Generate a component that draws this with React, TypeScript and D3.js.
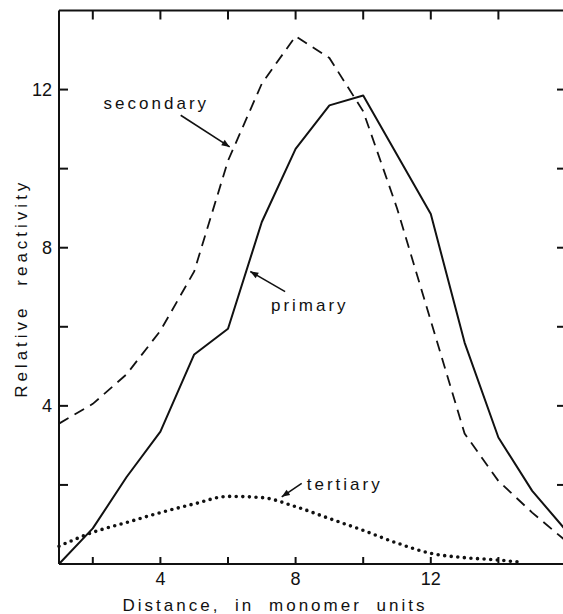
import React from "react";
import * as d3 from "d3";

// values
const distance = [1, 2, 3, 4, 5, 6, 7, 8, 9, 10, 11, 12, 13, 14, 15, 16];
const primary = [0, 0.9, 2.2, 3.35, 5.3, 5.95, 8.65, 10.5, 11.6, 11.85, 10.35, 8.85, 5.6, 3.2, 1.85, 0.85];
const secondary = [3.55, 4.05, 4.8, 5.9, 7.4, 10.2, 12.15, 13.35, 12.8, 11.45, 9.0, 6.15, 3.3, 2.1, 1.3, 0.58];
const tertiaryDistance = [1, 2, 3, 4, 5, 6, 7, 8, 9, 10, 11, 12, 13, 14, 14.6];
const tertiary = [0.45, 0.8, 1.05, 1.3, 1.52, 1.71, 1.68, 1.45, 1.15, 0.85, 0.53, 0.27, 0.16, 0.1, 0.05];

const xTicks = [2, 4, 6, 8, 10, 12, 14];
const xTickLabels = [4, 8, 12];
const yTicks = [2, 4, 6, 8, 10, 12];
const yTickLabels = [4, 8, 12];

const App = () => {
    const width = 563;
    const height = 614;

    const MARGIN = { top: 10.5, right: -3, bottom: 50, left: 59 };
    const boundsRight = width - MARGIN.right;
    const boundsBottom = height - MARGIN.bottom;

    const xScale = d3.scaleLinear().domain([1, 16]).range([MARGIN.left, boundsRight]);
    const yScale = d3.scaleLinear().domain([0, 14]).range([boundsBottom, MARGIN.top]);

    const font = "'Liberation Sans', Arial, sans-serif";
    const ink = "#111";

    const lineBuilder = (xs: number[]) =>
        d3.line<number>()
            .x((d, i) => xScale(xs[i]))
            .y((d) => yScale(d));

    const primaryPath = lineBuilder(distance)(primary);
    const secondaryPath = lineBuilder(distance)(secondary);
    const tertiaryPath = lineBuilder(tertiaryDistance).curve(d3.curveMonotoneX)(tertiary);

    // labels with their arrows, in data units
    const notes = [
        { text: "secondary", tx: 2.32, ty: 11.5, from: [4.6, 11.35], to: [6.05, 10.55] },
        { text: "primary", tx: 7.27, ty: 6.39, from: [7.69, 6.89], to: [6.66, 7.4] },
        { text: "tertiary", tx: 8.33, ty: 1.87, from: [8.18, 2.04], to: [7.59, 1.7] },
    ];

    const x0 = xScale(1);
    const x1 = xScale(16);
    const y0 = yScale(0);
    const y1 = yScale(14);

    return (
        <div style={{ position: "absolute", left: 0, top: 0 }}>
            <svg width={width} height={height} style={{ display: "block", background: "#fff" }}>
                <defs>
                    <marker id="arrow" viewBox="0 0 10 10" refX={10} refY={5}
                        markerWidth={9} markerHeight={8} markerUnits="userSpaceOnUse" orient="auto">
                        <path d="M0,1 L10,5 L0,9 z" fill={ink} />
                    </marker>
                </defs>

                {/* frame */}
                <g stroke={ink} strokeWidth={2} fill="none">
                    <line x1={x0} y1={y0} x2={x1} y2={y0} />
                    <line x1={x0} y1={y1} x2={x1} y2={y1} />
                    <line x1={x0} y1={y0} x2={x0} y2={y1} />
                    <line x1={x1} y1={y0} x2={x1} y2={y1} />
                    {xTicks.map((t) => (
                        <g key={"xt" + t}>
                            <line x1={xScale(t)} x2={xScale(t)} y1={y0} y2={y0 - 7} />
                            <line x1={xScale(t)} x2={xScale(t)} y1={y1} y2={y1 + 9} />
                        </g>
                    ))}
                    {yTicks.map((t) => (
                        <g key={"yt" + t}>
                            <line x1={x0} x2={x0 + 9} y1={yScale(t)} y2={yScale(t)} />
                            <line x1={x1} x2={x1 - 9} y1={yScale(t)} y2={yScale(t)} />
                        </g>
                    ))}
                </g>

                <g fontFamily={font} fontSize={18} fill={ink}>
                    {xTickLabels.map((t) => (
                        <text key={"xl" + t} x={xScale(t)} y={y0 + 21} textAnchor="middle">{t}</text>
                    ))}
                    {yTickLabels.map((t) => (
                        <text key={"yl" + t} x={x0 - 7} y={yScale(t)} dy="0.36em" textAnchor="end">{t}</text>
                    ))}
                </g>

                {/* series */}
                <path d={secondaryPath || ""} fill="none" stroke={ink} strokeWidth={1.8} strokeDasharray="11 7" />
                <path d={primaryPath || ""} fill="none" stroke={ink} strokeWidth={2} strokeLinejoin="round" />
                <path d={tertiaryPath || ""} fill="none" stroke={ink} strokeWidth={3.6}
                    strokeDasharray="0 6.6" strokeLinecap="round" />

                {/* annotations */}
                <g fontFamily={font} fontSize={17} fill={ink} letterSpacing={3}>
                    {notes.map((n) => (
                        <g key={n.text}>
                            <text x={xScale(n.tx)} y={yScale(n.ty)}>{n.text}</text>
                            <line x1={xScale(n.from[0])} y1={yScale(n.from[1])}
                                x2={xScale(n.to[0])} y2={yScale(n.to[1])}
                                stroke={ink} strokeWidth={1.6} markerEnd="url(#arrow)" />
                        </g>
                    ))}
                </g>

                {/* axis titles */}
                <text x={(x0 + 491) / 2} y={611} textAnchor="middle" fontFamily={font} fontSize={17}
                    fill={ink} letterSpacing={3} wordSpacing={7}>
                    Distance, in monomer units
                </text>
                <text transform={`translate(27, ${(y0 + y1) / 2 + 1}) rotate(-90)`} textAnchor="middle"
                    fontFamily={font} fontSize={17} fill={ink} letterSpacing={4} wordSpacing={10}>
                    Relative reactivity
                </text>
            </svg>
        </div>
    );
};

export default App;
